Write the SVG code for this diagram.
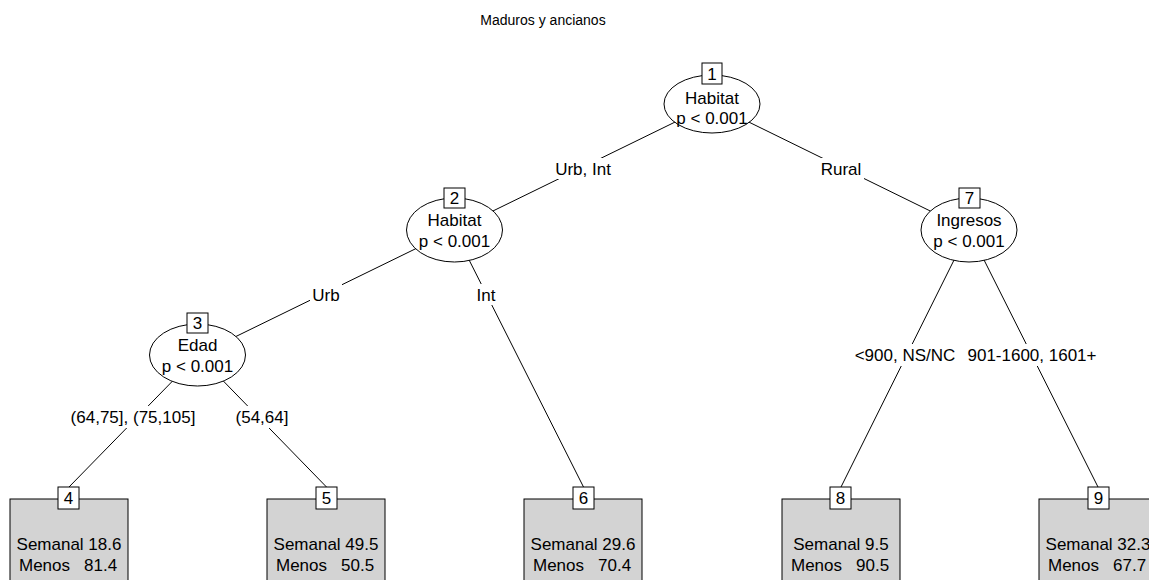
<svg xmlns="http://www.w3.org/2000/svg" width="1149" height="580" viewBox="0 0 1149 580">
<style>
text{font-family:"Liberation Sans",Arial,sans-serif;font-size:17px;fill:#000;text-anchor:middle}
.title{font-size:14px}
.edge{stroke:#000;stroke-width:1;fill:none}
.lblbg{fill:#fff;stroke:none}
.ell{fill:#fff;stroke:#000;stroke-width:1}
.idbox{fill:#fff;stroke:#000;stroke-width:1}
.term{fill:#d3d3d3;stroke:#000;stroke-width:1}
.st{text-anchor:start}
</style>
<rect width="1149" height="580" fill="#fff"/>
<text class="title" x="543" y="25">Maduros y ancianos</text>

<g id="connectors">
  <line class="edge" x1="712" y1="104" x2="454" y2="230"/>
  <line class="edge" x1="712" y1="104" x2="969" y2="230"/>
  <line class="edge" x1="454" y1="230" x2="198" y2="355"/>
  <line class="edge" x1="454" y1="230" x2="583.5" y2="487"/>
  <line class="edge" x1="198" y1="355" x2="69" y2="487"/>
  <line class="edge" x1="198" y1="355" x2="326.5" y2="487"/>
  <line class="edge" x1="969" y1="230" x2="841" y2="487"/>
  <line class="edge" x1="969" y1="230" x2="1098" y2="487"/>
  <rect class="lblbg" x="553" y="158" width="60" height="21"/>
  <text x="583" y="175">Urb, Int</text>
  <rect class="lblbg" x="819" y="158" width="45" height="21"/>
  <text x="841" y="175">Rural</text>
  <rect class="lblbg" x="310" y="284" width="32" height="21"/>
  <text x="326" y="301">Urb</text>
  <rect class="lblbg" x="475" y="284" width="22" height="21"/>
  <text x="486" y="301">Int</text>
  <rect class="lblbg" x="66" y="406" width="134" height="22"/>
  <text x="133" y="423">(64,75], (75,105]</text>
  <rect class="lblbg" x="231" y="406" width="62" height="22"/>
  <text x="262" y="423">(54,64]</text>
  <rect class="lblbg" x="851" y="344" width="108" height="22"/>
  <text x="905" y="361">&lt;900, NS/NC</text>
  <rect class="lblbg" x="965" y="344" width="135" height="22"/>
  <text x="1032" y="361">901-1600, 1601+</text>
</g>

<g id="node1">
  <ellipse class="ell" cx="712" cy="104" rx="48" ry="29"/>
  <rect class="idbox" x="702" y="63" width="20" height="21"/>
  <text x="712" y="80">1</text>
  <text x="712" y="104">Habitat</text>
  <text x="712" y="124">p &lt; 0.001</text>
</g>
<g id="node2">
  <ellipse class="ell" cx="454.5" cy="230" rx="48" ry="32"/>
  <rect class="idbox" x="444" y="188" width="21" height="20"/>
  <text x="454.5" y="204">2</text>
  <text x="454.5" y="226">Habitat</text>
  <text x="454.5" y="247">p &lt; 0.001</text>
</g>
<g id="node3">
  <ellipse class="ell" cx="197.5" cy="355" rx="48" ry="31"/>
  <rect class="idbox" x="187" y="313" width="21" height="20"/>
  <text x="197.5" y="329">3</text>
  <text x="197.5" y="351">Edad</text>
  <text x="197.5" y="372">p &lt; 0.001</text>
</g>
<g id="node7">
  <ellipse class="ell" cx="969" cy="230" rx="48" ry="32"/>
  <rect class="idbox" x="959" y="188" width="21" height="20"/>
  <text x="969.5" y="204">7</text>
  <text x="969" y="226">Ingresos</text>
  <text x="969" y="247">p &lt; 0.001</text>
</g>

<g id="node4">
  <rect class="term" x="10" y="499" width="118" height="95"/>
  <rect class="idbox" x="58" y="487" width="21" height="22"/>
  <text x="68.5" y="504">4</text>
  <text x="69" y="550">Semanal 18.6</text>
  <text class="st" x="19" y="571">Menos</text>
  <text class="st" x="84" y="571">81.4</text>
</g>
<g id="node5">
  <rect class="term" x="267" y="499" width="118" height="95"/>
  <rect class="idbox" x="316" y="487" width="21" height="22"/>
  <text x="326.5" y="504">5</text>
  <text x="326" y="550">Semanal 49.5</text>
  <text class="st" x="276" y="571">Menos</text>
  <text class="st" x="341" y="571">50.5</text>
</g>
<g id="node6">
  <rect class="term" x="524" y="499" width="118" height="95"/>
  <rect class="idbox" x="573" y="487" width="21" height="22"/>
  <text x="583.5" y="504">6</text>
  <text x="583" y="550">Semanal 29.6</text>
  <text class="st" x="533" y="571">Menos</text>
  <text class="st" x="598" y="571">70.4</text>
</g>
<g id="node8">
  <rect class="term" x="782" y="499" width="118" height="95"/>
  <rect class="idbox" x="830" y="487" width="21" height="22"/>
  <text x="840.5" y="504">8</text>
  <text x="841" y="550">Semanal 9.5</text>
  <text class="st" x="791" y="571">Menos</text>
  <text class="st" x="856" y="571">90.5</text>
</g>
<g id="node9">
  <rect class="term" x="1039" y="499" width="118" height="95"/>
  <rect class="idbox" x="1088" y="487" width="21" height="22"/>
  <text x="1098.5" y="504">9</text>
  <text x="1098" y="550">Semanal 32.3</text>
  <text class="st" x="1048" y="571">Menos</text>
  <text class="st" x="1113" y="571">67.7</text>
</g>
</svg>
